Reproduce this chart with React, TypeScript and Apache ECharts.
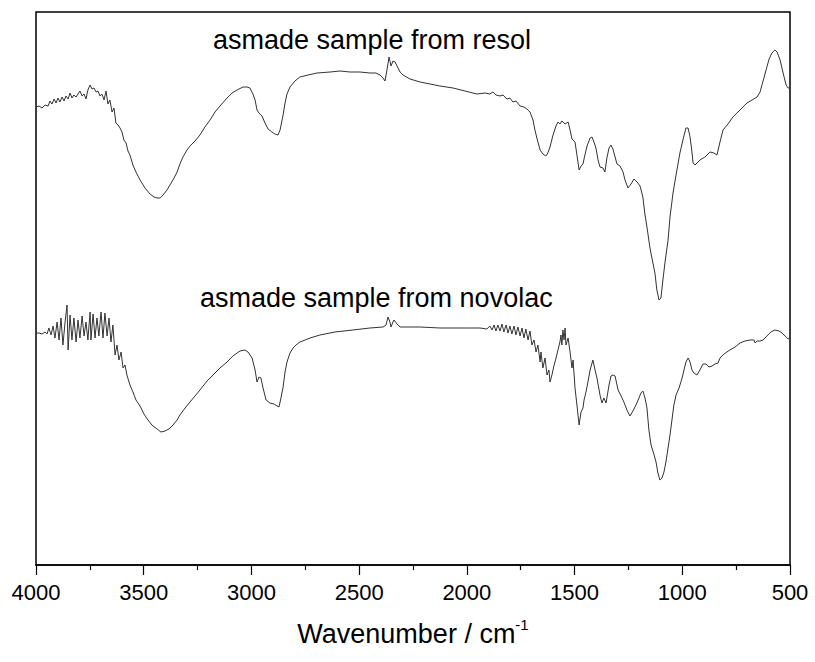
import React, { useEffect, useRef } from "react";
import * as echarts from "echarts";

// Resol-derived sample spectrum (wavenumber in cm-1, transmittance in arbitrary units)
const resolWavenumbers = [
  4000, 3986, 3972, 3958, 3944, 3935, 3926, 3916, 3907, 3898, 3889, 3879, 3870, 3861, 3851, 3842, 3833, 3824, 3814, 3805,
  3796, 3786, 3777, 3768, 3759, 3749, 3740, 3731, 3721, 3712, 3703, 3694, 3684, 3675, 3666, 3657, 3647, 3638, 3629, 3619,
  3610, 3601, 3592, 3582, 3573, 3564, 3550, 3536, 3517, 3494, 3471, 3452, 3438, 3424, 3410, 3392, 3378, 3359, 3345, 3332,
  3318, 3299, 3285, 3262, 3239, 3216, 3192, 3169, 3146, 3113, 3090, 3067, 3039, 3021, 3007, 2993, 2983, 2974, 2965, 2951,
  2937, 2923, 2905, 2891, 2877, 2867, 2853, 2844, 2835, 2821, 2798, 2775, 2737, 2696, 2635, 2589, 2542, 2496, 2450, 2422,
  2403, 2389, 2380, 2371, 2361, 2352, 2343, 2333, 2324, 2310, 2296, 2264, 2217, 2171, 2125, 2064, 2009, 1953, 1916, 1893,
  1879, 1865, 1846, 1832, 1814, 1800, 1786, 1772, 1753, 1735, 1721, 1707, 1693, 1684, 1675, 1660, 1647, 1633, 1624, 1614,
  1600, 1586, 1577, 1568, 1559, 1544, 1530, 1521, 1512, 1498, 1489, 1479, 1470, 1461, 1452, 1442, 1428, 1419, 1410, 1401,
  1391, 1382, 1368, 1359, 1350, 1340, 1331, 1322, 1312, 1303, 1289, 1275, 1266, 1252, 1238, 1224, 1210, 1196, 1183, 1173,
  1164, 1150, 1141, 1127, 1118, 1108, 1099, 1090, 1080, 1066, 1057, 1043, 1029, 1011, 997, 983, 973, 964, 955, 950,
  941, 918, 895, 871, 853, 839, 825, 811, 788, 765, 732, 700, 676, 653, 639, 625, 611, 597, 584, 570,
  560, 546, 532, 518, 509, 500,
];
const resolValues = [
  458, 459, 457, 460, 459, 464, 461, 466, 462, 467, 463, 468, 464, 469, 466, 472, 467, 470, 468, 471,
  474, 469, 471, 466, 475, 480, 476, 477, 473, 474, 469, 471, 465, 474, 461, 465, 453, 457, 442, 440,
  437, 433, 425, 422, 414, 410, 400, 393, 385, 377, 371, 368, 367, 367, 370, 375, 380, 387, 393, 401,
  408, 415, 419, 424, 430, 438, 445, 453, 459, 467, 472, 475, 478, 478, 477, 471, 465, 455, 452, 449,
  442, 436, 433, 431, 430, 435, 450, 462, 471, 478, 484, 488, 490, 492, 493, 494, 493, 493, 492, 492,
  490, 487, 484, 495, 508, 499, 504, 503, 499, 493, 490, 486, 483, 481, 479, 477, 474, 471, 472, 471,
  473, 470, 469, 470, 466, 467, 463, 464, 459, 458, 456, 453, 445, 435, 427, 415, 411, 409, 412, 418,
  430, 439, 443, 441, 444, 441, 443, 435, 426, 423, 410, 395, 399, 401, 410, 419, 427, 428, 423, 417,
  405, 398, 397, 393, 407, 417, 420, 416, 408, 401, 399, 393, 385, 377, 381, 386, 383, 379, 368, 350,
  338, 317, 307, 292, 275, 265, 267, 285, 303, 325, 348, 372, 390, 412, 425, 437, 437, 428, 413, 402,
  400, 405, 408, 413, 412, 410, 423, 435, 441, 448, 455, 462, 465, 468, 473, 484, 495, 506, 512, 515,
  513, 505, 492, 480, 477, 477,
];

// Novolac-derived sample spectrum
const novolacWavenumbers = [
  4000, 3986, 3972, 3958, 3949, 3940, 3930, 3921, 3912, 3902, 3893, 3884, 3875, 3865, 3856, 3851, 3842, 3833, 3824, 3814,
  3805, 3796, 3786, 3777, 3768, 3759, 3749, 3745, 3735, 3726, 3717, 3708, 3698, 3689, 3680, 3670, 3661, 3652, 3643, 3633,
  3624, 3615, 3605, 3596, 3587, 3578, 3564, 3550, 3536, 3517, 3499, 3480, 3462, 3438, 3420, 3401, 3383, 3364, 3345, 3332,
  3308, 3285, 3262, 3239, 3206, 3178, 3146, 3113, 3086, 3053, 3030, 3016, 2997, 2983, 2974, 2965, 2956, 2946, 2932, 2914,
  2895, 2881, 2872, 2863, 2853, 2844, 2835, 2821, 2807, 2793, 2775, 2751, 2728, 2682, 2612, 2529, 2450, 2389, 2375, 2366,
  2357, 2352, 2343, 2338, 2324, 2310, 2264, 2217, 2125, 2064, 1985, 1939, 1907, 1893, 1883, 1874, 1865, 1856, 1846, 1837,
  1828, 1818, 1809, 1800, 1791, 1781, 1772, 1763, 1753, 1744, 1735, 1726, 1716, 1707, 1698, 1688, 1679, 1670, 1660, 1656,
  1647, 1637, 1628, 1619, 1614, 1605, 1596, 1586, 1577, 1568, 1563, 1559, 1554, 1549, 1544, 1540, 1530, 1521, 1512, 1507,
  1498, 1489, 1479, 1470, 1461, 1456, 1447, 1438, 1428, 1415, 1405, 1396, 1382, 1373, 1364, 1354, 1350, 1340, 1331, 1322,
  1312, 1298, 1284, 1271, 1257, 1243, 1229, 1215, 1201, 1192, 1183, 1173, 1164, 1155, 1145, 1132, 1122, 1113, 1104, 1094,
  1085, 1076, 1066, 1057, 1048, 1039, 1029, 1015, 1001, 992, 983, 973, 964, 955, 946, 932, 918, 904, 890, 876,
  862, 848, 834, 825, 816, 806, 793, 779, 755, 732, 709, 686, 667, 662, 653, 639, 625, 607, 589, 570,
  551, 537, 523, 509, 500,
];
const novolacValues = [
  232, 232, 231, 233, 231, 237, 230, 239, 227, 243, 225, 247, 220, 243, 260, 215, 250, 225, 247, 223,
  245, 227, 249, 229, 243, 225, 253, 225, 251, 227, 247, 229, 253, 227, 252, 229, 247, 223, 240, 210,
  220, 205, 213, 197, 200, 190, 180, 173, 165, 159, 151, 145, 140, 136, 133, 134, 136, 140, 145, 150,
  157, 163, 169, 175, 184, 190, 197, 203, 209, 214, 215, 213, 207, 195, 183, 188, 187, 177, 165, 162,
  161, 159, 158, 167, 178, 193, 203, 212, 217, 220, 223, 225, 227, 230, 233, 235, 237, 238, 240, 248,
  243, 238, 243, 245, 241, 238, 238, 238, 237, 237, 237, 237, 236, 239, 235, 240, 234, 240, 234, 241,
  233, 240, 232, 239, 231, 239, 230, 238, 229, 237, 227, 236, 225, 234, 220, 225, 213, 220, 203, 213,
  197, 207, 190, 195, 183, 190, 199, 207, 215, 223, 230, 220, 235, 225, 237, 220, 227, 213, 197, 205,
  177, 160, 140, 153, 157, 165, 173, 183, 195, 205, 195, 187, 170, 162, 167, 162, 167, 180, 189, 190,
  189, 175, 169, 163, 155, 149, 154, 160, 167, 172, 174, 167, 157, 135, 120, 111, 103, 92, 85, 87,
  93, 103, 117, 130, 145, 160, 170, 177, 187, 195, 203, 207, 203, 195, 192, 190, 195, 201, 201, 198,
  199, 201, 202, 207, 209, 211, 213, 215, 218, 222, 224, 225, 225, 222, 224, 224, 225, 229, 233, 235,
  234, 232, 229, 226, 227,
];

const xTickMin = 500;
const xTickMax = 4000;
const xTickStep = 500;
const yMin = 0;
const yMax = 553;

const labelResol = "asmade sample from resol";
const labelNovolac = "asmade sample from novolac";
const axisTitle = "Wavenumber / cm";
const axisTitleSup = "-1";

const FONT = "'Liberation Sans', Arial, Helvetica, sans-serif";

export default function App() {
  const ref = useRef<HTMLDivElement>(null);

  useEffect(() => {
    if (!ref.current) return;
    const chart = echarts.init(ref.current, undefined, { renderer: "svg" });
    const resolData = resolWavenumbers.map((w, i) => [w, resolValues[i]]);
    const novolacData = novolacWavenumbers.map((w, i) => [w, novolacValues[i]]);

    chart.setOption({
      animation: false,
      backgroundColor: "#ffffff",
      textStyle: { fontFamily: FONT },
      grid: {
        left: 36,
        right: 25,
        top: 12,
        bottom: 97,
        show: true,
        borderColor: "#000",
        borderWidth: 1.5,
        backgroundColor: "transparent",
      },
      xAxis: {
        type: "value",
        inverse: true,
        min: xTickMin,
        max: xTickMax,
        interval: xTickStep,
        splitLine: { show: false },
        axisLine: { show: true, lineStyle: { color: "#000", width: 1.5 } },
        axisTick: { show: true, inside: false, length: 10, lineStyle: { color: "#000", width: 1.2 } },
        minorTick: { show: true, splitNumber: 2, length: 5, lineStyle: { color: "#000", width: 1.2 } },
        axisLabel: {
          color: "#000",
          fontSize: 22,
          fontFamily: FONT,
          margin: 16,
          formatter: (v: number) => String(v),
        },
        name: `{t|${axisTitle}}{s|${axisTitleSup}}`,
        nameLocation: "middle",
        nameGap: 52,
        nameTextStyle: {
          rich: {
            t: { fontSize: 27, fontFamily: FONT, color: "#000", lineHeight: 30, verticalAlign: "bottom" },
            s: { fontSize: 15, fontFamily: FONT, color: "#000", verticalAlign: "top", lineHeight: 18 },
          },
        },
      },
      yAxis: {
        type: "value",
        min: yMin,
        max: yMax,
        show: true,
        axisLine: { show: false },
        axisTick: { show: false },
        axisLabel: { show: false },
        splitLine: { show: false },
      },
      series: [
        {
          name: "resol",
          type: "line",
          data: resolData,
          showSymbol: false,
          symbol: "none",
          lineStyle: { color: "#333333", width: 1 },
          z: 3,
        },
        {
          name: "novolac",
          type: "line",
          data: novolacData,
          showSymbol: false,
          symbol: "none",
          lineStyle: { color: "#333333", width: 1 },
          z: 3,
        },
      ],
      graphic: [
        {
          type: "text",
          left: 213,
          top: 26,
          style: { text: labelResol, font: `27px ${FONT}`, fill: "#000" },
        },
        {
          type: "text",
          left: 200,
          top: 284,
          style: { text: labelNovolac, font: `27px ${FONT}`, fill: "#000" },
        },
      ],
    });

    return () => chart.dispose();
  }, []);

  return (
    <div
      ref={ref}
      style={{ position: "fixed", left: 0, top: 0, width: 815, height: 662, background: "#fff" }}
    />
  );
}
